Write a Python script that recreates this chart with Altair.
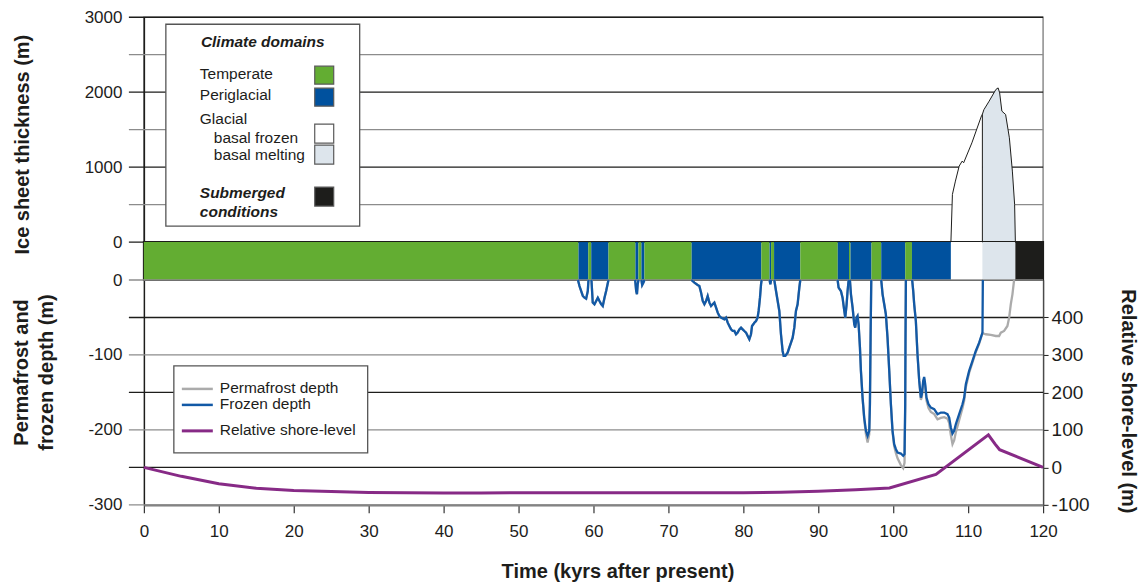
import altair as alt
import pandas as pd

FONT = "Liberation Sans"
INK = "#1d1d1b"
GREY = "#8c8c8c"

# ---------------- data ----------------
# Climate-domain bar (kyrs after present)
CLIMATE_START = [0, 58.0, 59.3, 59.7, 62.0, 65.6, 66.0, 66.4, 66.8, 73.1, 82.4, 83.5, 83.7,
                 84.1, 87.6, 92.6, 94.1, 94.3, 97.1, 98.4, 101.6, 102.5, 107.7, 111.9, 116.3]
CLIMATE_END = [58.0, 59.3, 59.7, 62.0, 65.6, 66.0, 66.4, 66.8, 73.1, 82.4, 83.5, 83.7, 84.1,
               87.6, 92.6, 94.1, 94.3, 97.1, 98.4, 101.6, 102.5, 107.7, 111.9, 116.3, 120]
CLIMATE_DOMAIN = ["Temperate", "Periglacial"] * 11 + [
    "Glacial, basal frozen", "Glacial, basal melting", "Submerged conditions"]
DOMAIN_NAMES = ["Temperate", "Periglacial", "Glacial, basal frozen",
                "Glacial, basal melting", "Submerged conditions"]
DOMAIN_COLORS = ["#63ad32", "#00519e", "#ffffff", "#dde5ec", "#1d1d1b"]

# Ice sheet thickness (m)
ICE_KYR = [107.7, 107.9, 108.3, 108.8, 109.2, 109.4, 110.5, 111.8, 111.9, 112.1, 112.8,
           113.7, 114.0, 114.2, 114.5, 115.0, 115.5, 115.9, 116.2, 116.3]
ICE_THICK = [0, 635, 813, 1013, 1080, 1058, 1324, 1690, 1705, 1766, 1880,
             2036, 2057, 1991, 1747, 1702, 1391, 947, 502, 0]
ICE_MELT_START = 111.9

# Frozen depth (m), one list pair per periglacial episode
S1_K = [57.93, 58.13, 58.36, 58.58, 58.8, 59.02, 59.24, 59.33]
S1_D = [0, -8, -14.7, -21.3, -23.6, -24.9, -14.7, 0]
S2_K = [59.73, 59.9, 60.13, 60.36, 60.58, 60.8, 61.02, 61.24, 61.47, 61.69, 62.0]
S2_D = [0, -30, -32.4, -28, -23.6, -28, -32, -34.7, -23.6, -14.7, 0]
S3_K = [65.56, 65.7, 65.8, 65.9, 66.0]
S3_D = [0, -14.7, -19, -5.8, 0]
S4_K = [66.4, 66.5, 66.67, 66.8]
S4_D = [0, -6.7, -3.5, 0]
S5_K = [73.07, 73.47, 73.9, 74.13, 74.36, 74.58, 74.8, 75.02, 75.24, 75.47, 75.69, 75.91,
        76.13, 76.36, 76.58, 76.8, 77.02, 77.47, 77.69, 77.91, 78.13, 78.36, 78.58, 78.8,
        79.02, 79.24, 79.47, 79.69, 79.91, 80.13, 80.36, 80.58, 80.8, 81.02, 81.16, 81.33,
        81.47, 81.69, 81.9, 82.04, 82.22, 82.36, 82.44]
S5_D = [0, -3.6, -6.7, -8, -16.9, -28, -32.4, -28, -21.3, -30.2, -34.7, -32.4,
        -30.2, -36.9, -43.6, -48, -50.2, -52.4, -50.2, -56.9, -61.3, -65.8, -68, -68,
        -72.4, -70.2, -65.8, -63.6, -65.8, -68, -70.2, -74.7, -79.1, -72.4, -61.3, -59.1,
        -56.9, -54.7, -50.2, -41.3, -23.6, -5.8, 0]
S6_K = [83.5, 83.6, 83.7]
S6_D = [0, -5.8, 0]
S7_K = [84.13, 84.36, 84.58, 84.8, 85.02, 85.24, 85.38, 85.6, 85.91, 86.13, 86.36, 86.58,
        86.8, 87.02, 87.24, 87.47, 87.6]
S7_D = [0, -14.7, -28, -41.3, -72.4, -94.7, -101.3, -101.3, -96.9, -90.2, -83.6, -76.9,
        -63.6, -41.3, -32.4, -10.2, 0]
S8_K = [92.58, 92.71, 93.02, 93.24, 93.47, 93.6, 93.78, 93.91, 94.04, 94.13]
S8_D = [0, -10.2, -14.7, -23.6, -41.3, -50.2, -32.4, -14.7, -1.3, 0]
S9_K = [94.22, 94.36, 94.58, 94.8, 94.93, 95.11, 95.24, 95.38, 95.56, 95.69, 95.91, 96.13,
        96.36, 96.58, 96.8, 96.89, 96.98, 97.07]
S9_D = [0, -19.1, -36.9, -59.1, -63.6, -50.2, -48, -59.1, -90.2, -121.3, -156.9, -183.6,
        -201.3, -208, -201.3, -165.8, -76.9, 0]
S9_PD = [0, -19.1, -36.9, -59.1, -63.6, -50.2, -48, -59.1, -90.2, -121.3, -158, -186,
         -206, -217, -206, -168, -78, 0]
S10_K = [98.4, 98.58, 98.8, 99.02, 99.24, 99.47, 99.69, 99.91, 100.13, 100.36, 100.58,
         101.02, 101.33, 101.51, 101.6, 101.64, 101.69]
S10_D = [0, -19.1, -32.4, -45.8, -76.9, -121.3, -165.8, -201.3, -219.1, -225.8, -230.2,
         -231.6, -234.7, -232.4, -165.8, -76.9, 0]
S10_PD = [0, -19.1, -32.4, -45.8, -76.9, -121.3, -165.8, -203, -222, -231, -238,
          -247, -251, -244, -170, -78, 0]
S11_K = [102.53, 102.67, 102.8, 103.02, 103.24, 103.47, 103.69, 103.82, 104.0, 104.13,
         104.27, 104.44, 104.71, 105.02, 105.47, 105.91, 106.36, 106.8, 107.24, 107.47,
         107.69, 107.91, 108.13, 108.36, 108.8, 109.24, 109.47, 109.69, 110.13, 110.58,
         111.02, 111.47, 111.91, 111.96]
S11_D = [0, -14.7, -32.4, -54.7, -99.1, -134.7, -156.9, -152.4, -134.7, -129.3,
         -139.1, -156.9, -165.8, -170.2, -172.4, -179.1, -176.9, -176.9, -179.1, -183.6,
         -196.9, -204.9, -201.3, -192.4, -179.1, -165.8, -156.9, -139.1, -121.3, -108,
         -94.7, -83.6, -70.2, 0]
# Permafrost depth continues below the ice sheet
S11_PK = [102.53, 102.67, 102.8, 103.02, 103.24, 103.47, 103.69, 103.82, 104.0, 104.13,
          104.27, 104.44, 104.71, 105.02, 105.47, 105.91, 106.36, 106.8, 107.24, 107.47,
          107.69, 107.91, 108.13, 108.36, 108.8, 109.24, 109.47, 109.69, 110.13, 110.58,
          111.02, 111.47, 111.91, 112.36, 113.02, 113.69, 114.13, 114.36, 114.8, 115.24,
          115.47, 115.69, 115.91, 116.13]
S11_PD = [0, -14.7, -32.4, -54.7, -99.1, -134.7, -160, -156, -138, -132,
          -143, -161, -171, -176, -179, -186, -184, -183, -185, -191,
          -207, -219, -214, -203, -187, -171, -161, -143, -124, -110,
          -96, -85, -71, -72.4, -73.3, -74.7, -74.7, -70.2, -68, -61.3,
          -50.2, -32.4, -19.1, 0]

FROZEN = [(S1_K, S1_D), (S2_K, S2_D), (S3_K, S3_D), (S4_K, S4_D), (S5_K, S5_D),
          (S6_K, S6_D), (S7_K, S7_D), (S8_K, S8_D), (S9_K, S9_D), (S10_K, S10_D),
          (S11_K, S11_D)]
PERMAFROST = [(S1_K, S1_D), (S2_K, S2_D), (S3_K, S3_D), (S4_K, S4_D), (S5_K, S5_D),
              (S6_K, S6_D), (S7_K, S7_D), (S8_K, S8_D), (S9_K, S9_PD), (S10_K, S10_PD),
              (S11_PK, S11_PD)]

# Relative shore-level (m)
SHORE_KYR = [0, 5, 10, 15, 20, 30, 40, 45, 50, 60, 70, 80, 85, 90, 95, 99.5, 105.7,
             112.7, 113.6, 114.2, 120]
SHORE_LEVEL = [0, -24, -44, -56, -62, -67, -68.5, -68.5, -67.5, -67.5, -68, -68, -66.5,
               -64, -60, -55, -19, 87, 62, 47, 0]

CLIMATE_LEGEND_TITLE = "Climate domains"
CLIMATE_LEGEND_LABELS = ["Temperate", "Periglacial", "Glacial", "basal frozen",
                         "basal melting", "Submerged", "conditions"]
LINE_LEGEND_LABELS = ["Permafrost depth", "Frozen depth", "Relative shore-level"]
LINE_COLORS = ["#ababab", "#1259a6", "#872a86"]

TOP_TICKS = [0, 500, 1000, 1500, 2000, 2500, 3000]
DEPTH_TICKS = [-300, -250, -200, -150, -100, -50, 0]
SHORE_TICKS = [-100, 0, 100, 200, 300, 400]
TIME_TICKS = list(range(0, 121, 10))

# ---------------- frames ----------------
def seg_frame(segments):
    rows = []
    for i, (ks, ds) in enumerate(segments):
        for k, d in zip(ks, ds):
            rows.append({"kyr": k, "depth": d, "seg": i})
    return pd.DataFrame(rows)

climate = pd.DataFrame({"start": CLIMATE_START, "end": CLIMATE_END, "domain": CLIMATE_DOMAIN})
ice = pd.DataFrame({"kyr": ICE_KYR, "thick": ICE_THICK})
ice_frozen = ice[ice.kyr <= ICE_MELT_START]
ice_melt = ice[ice.kyr >= ICE_MELT_START]
ice_split = ice[ice.kyr == ICE_MELT_START].assign(base=0)
frozen_df = seg_frame(FROZEN)
perma_df = seg_frame(PERMAFROST)
shore_df = pd.DataFrame({"kyr": SHORE_KYR, "shore": SHORE_LEVEL})
ONE = pd.DataFrame({"k": [0]})

XS = alt.Scale(domain=[0, 120], nice=False, zero=False)
PLOT_W = 900
TICK_LEN = 15


def text_at(txt, x, y, size=15.5, weight="normal", style="normal", align="left"):
    return alt.Chart(ONE).mark_text(
        text=txt, font=FONT, fontSize=size, fontWeight=weight, fontStyle=style,
        align=align, baseline="middle", color=INK
    ).encode(x=alt.value(x), y=alt.value(y))


def box_at(x1, x2, y1, y2, fill, stroke="#4a4a4a", sw=1.2):
    return alt.Chart(ONE).mark_rect(fill=fill, stroke=stroke, strokeWidth=sw).encode(
        x=alt.value(x1), x2=alt.value(x2), y=alt.value(y1), y2=alt.value(y2))


def hline_at(x1, x2, y, color, sw=2.5):
    return alt.Chart(ONE).mark_rule(color=color, strokeWidth=sw).encode(
        x=alt.value(x1), x2=alt.value(x2), y=alt.value(y))


def grid_rules(ticks, field, test, c_true, c_false, scale, axis):
    """Gridlines that also extend outside the left axis as tick marks."""
    df = pd.DataFrame({field: ticks})
    return alt.Chart(df).mark_rule(strokeWidth=1.3).encode(
        x=alt.value(-TICK_LEN), x2=alt.value(PLOT_W),
        y=alt.Y(f"{field}:Q", scale=scale, axis=axis),
        color=alt.condition(test, alt.value(c_true), alt.value(c_false)))


# ---------------- top panel: ice sheet ----------------
top_axis = alt.Axis(
    values=TOP_TICKS, format="d", labelExpr="datum.value % 1000 === 0 ? datum.label : ''",
    labelFontSize=17, labelPadding=7, labelOverlap=False,
    tickSize=TICK_LEN, tickColor="transparent", grid=False,
    domainColor=INK, domainWidth=1.5,
    title="Ice sheet thickness (m)", titleFontSize=20, titleFontWeight="bold",
    titleAngle=270, titleX=-121, titleY=127, titleBaseline="middle", titleAlign="center")
TY = alt.Scale(domain=[0, 3000], nice=False, zero=False)

top_grid = grid_rules(TOP_TICKS, "thick", "datum.thick % 1000 === 0", INK, GREY, TY, top_axis)
area_frozen = alt.Chart(ice_frozen).mark_area(color="#ffffff", opacity=1).encode(
    x=alt.X("kyr:Q", scale=XS, axis=None), y=alt.Y("thick:Q"))
area_melt = alt.Chart(ice_melt).mark_area(color=DOMAIN_COLORS[3], opacity=1).encode(
    x=alt.X("kyr:Q", scale=XS, axis=None), y=alt.Y("thick:Q"))
outline = alt.Chart(ice).mark_line(color=INK, strokeWidth=1).encode(
    x=alt.X("kyr:Q", scale=XS, axis=None), y=alt.Y("thick:Q"))
divider = alt.Chart(ice_split).mark_rule(color=INK, strokeWidth=1).encode(
    x=alt.X("kyr:Q", scale=XS, axis=None), y=alt.Y("thick:Q"), y2="base:Q")

sw_rows = [(49, 67), (71, 89), (107, 126), (128, 147), (170, 189)]
legend_top = [
    box_at(22, 216, 7, 209, "#ffffff", stroke="#555555", sw=1.3),
    text_at(CLIMATE_LEGEND_TITLE, 119, 25, weight="bold", style="italic", align="center"),
    text_at(CLIMATE_LEGEND_LABELS[0], 56, 57),
    text_at(CLIMATE_LEGEND_LABELS[1], 56, 78),
    text_at(CLIMATE_LEGEND_LABELS[2], 56, 102),
    text_at(CLIMATE_LEGEND_LABELS[3], 70, 121),
    text_at(CLIMATE_LEGEND_LABELS[4], 70, 138),
    text_at(CLIMATE_LEGEND_LABELS[5], 56, 176, weight="bold", style="italic"),
    text_at(CLIMATE_LEGEND_LABELS[6], 56, 195, weight="bold", style="italic"),
]
for (y1, y2), c in zip(sw_rows, DOMAIN_COLORS):
    legend_top.append(box_at(171, 190, y1, y2, c, stroke="#5a5a5a", sw=1.2))

top = alt.layer(top_grid, area_frozen, area_melt, outline, divider, *legend_top).properties(
    width=PLOT_W, height=225, view=alt.ViewBackground(stroke=GREY, strokeWidth=1.5))

# ---------------- middle: climate domain bar ----------------
mid = alt.Chart(climate).mark_rect().encode(
    x=alt.X("start:Q", scale=XS, axis=None), x2="end:Q",
    color=alt.Color("domain:N", scale=alt.Scale(domain=DOMAIN_NAMES, range=DOMAIN_COLORS),
                    legend=None)
).properties(width=PLOT_W, height=38, view=alt.ViewBackground(stroke=INK, strokeWidth=2))

# ---------------- bottom: permafrost + shore level ----------------
depth_axis = alt.Axis(
    values=DEPTH_TICKS, labelExpr="datum.value % 100 === 0 ? '' + datum.value : ''",
    labelFontSize=17, labelPadding=7, labelOverlap=False,
    tickSize=TICK_LEN, tickColor="transparent", grid=False,
    domainColor=INK, domainWidth=1.5,
    title=["Permafrost and", "frozen depth (m)"], titleFontSize=20, titleFontWeight="bold",
    titleAngle=270, titleX=-122, titleY=92, titleBaseline="middle", titleAlign="center",
    titleLineHeight=25)
time_axis = alt.Axis(
    values=TIME_TICKS, labelFontSize=17, labelPadding=11, labelFlush=False,
    tickSize=8, tickColor="#333333", tickWidth=1.2,
    domainColor="#7a7a7a", domainWidth=2.2, grid=False,
    title="Time (kyrs after present)", titleFontSize=20, titleFontWeight="bold",
    titleX=474, titleY=73, titleBaseline="alphabetic", titleAlign="center")
shore_axis = alt.Axis(
    orient="right", values=SHORE_TICKS, labelExpr="'' + datum.value",
    labelFontSize=19, labelPadding=3, grid=False,
    tickSize=5, tickColor=INK, domainColor="#4a4a4a", domainWidth=1.5,
    title="Relative shore-level (m)", titleFontSize=20, titleFontWeight="bold",
    titleAngle=90, titleX=84, titleY=121, titleBaseline="middle", titleAlign="center")

DY = alt.Scale(domain=[-300, 0], nice=False, zero=False)
bottom_grid = grid_rules(DEPTH_TICKS, "depth", "datum.depth % 100 === 0", GREY, INK, DY,
                         depth_axis)
perma = alt.Chart(perma_df).mark_line(color=LINE_COLORS[0], strokeWidth=2.3).encode(
    x=alt.X("kyr:Q", scale=XS, axis=time_axis), y=alt.Y("depth:Q"), detail="seg:N")
frozen = alt.Chart(frozen_df).mark_line(color=LINE_COLORS[1], strokeWidth=2.3).encode(
    x=alt.X("kyr:Q"), y=alt.Y("depth:Q"), detail="seg:N")

legend_bot = [
    box_at(30, 224, 86, 173, "#ffffff", stroke="#555555", sw=1.3),
    hline_at(38, 69, 109, LINE_COLORS[0]),
    hline_at(38, 69, 125, LINE_COLORS[1]),
    hline_at(38, 69, 151, LINE_COLORS[2], sw=3),
    text_at(LINE_LEGEND_LABELS[0], 76, 108),
    text_at(LINE_LEGEND_LABELS[1], 76, 124),
    text_at(LINE_LEGEND_LABELS[2], 76, 150),
]
inner = alt.layer(bottom_grid, perma, frozen, *legend_bot)
shore = alt.Chart(shore_df).mark_line(color=LINE_COLORS[2], strokeWidth=3).encode(
    x=alt.X("kyr:Q"),
    y=alt.Y("shore:Q", scale=alt.Scale(domain=[-100, 500], nice=False, zero=False),
            axis=shore_axis))
bottom = alt.layer(inner, shore).resolve_scale(y="independent").properties(
    width=PLOT_W, height=225, view=alt.ViewBackground(stroke="transparent"))

chart = alt.vconcat(top, mid, bottom, spacing=0, bounds="flush").properties(
    padding={"left": 11, "top": 7, "right": 5, "bottom": 0}, background="white"
).configure_axis(
    labelFont=FONT, titleFont=FONT, labelColor=INK, titleColor=INK
).configure_text(font=FONT)

chart.save("out.html", embed_options={"renderer": "svg", "actions": False})
